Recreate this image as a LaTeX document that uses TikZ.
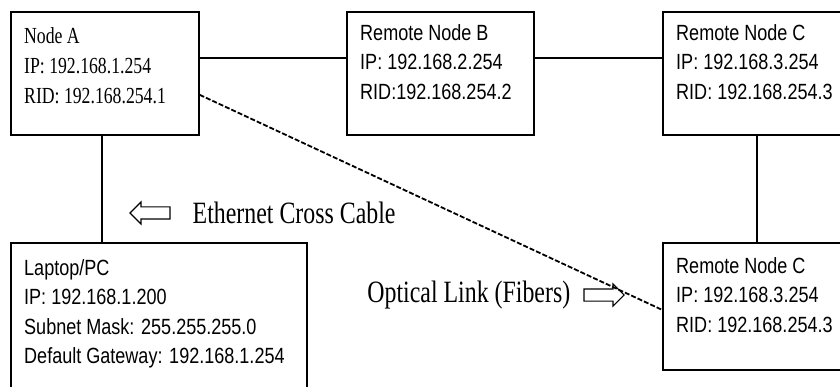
\documentclass[tikz,border=0pt]{standalone}
\usepackage{fontspec}
\usetikzlibrary{positioning,shapes.arrows}
\newfontfamily\boxsans{Liberation Sans}[FakeStretch=0.82]
\newfontfamily\boxserif{Liberation Serif}[FakeStretch=0.77]
\newfontfamily\linkserif{Liberation Serif}[FakeStretch=0.77]

\begin{document}
\begin{tikzpicture}[x=1pt, y=-1pt,
    host/.style={draw, line width=1.6pt, anchor=north west, inner sep=0pt, minimum width=188pt, minimum height=123pt},
    hosttext/.style={anchor=north west, align=left, inner sep=0pt, xshift=14pt, yshift=-13pt, font=\fontsize{22}{29.5}\selectfont\boxsans},
    link/.style={line width=1.6pt},
    fiber/.style={line width=1.8pt, dash pattern=on 5pt off 2pt},
    hint/.style={single arrow, draw, line width=1.1pt, inner sep=5.5pt, minimum height=40pt, single arrow head extend=5pt},
    hintlabel/.style={font=\fontsize{31}{34}\selectfont\linkserif, inner sep=0pt}]

    \useasboundingbox (0,0) rectangle (840,387);
    \clip (0,0) rectangle (840,387);

    % hosts
    \node[host, label={[hosttext, yshift=-3pt, font=\fontsize{23}{30}\selectfont\boxserif]north west:{Node A\\IP: 192.168.1.254\\RID: 192.168.254.1}}] (nodeA) at (10,11) {};
    \node[host, minimum width=187pt, label={[hosttext]north west:{Remote Node B\\IP: 192.168.2.254\\RID:192.168.254.2}}] (nodeB) at (346,11) {};
    \node[host, label={[hosttext]north west:{Remote Node C\\IP: 192.168.3.254\\RID: 192.168.254.3}}] (nodeC) at (662,11) {};
    \node[host, minimum height=127pt, label={[hosttext, yshift=-2pt]north west:{Remote Node C\\IP: 192.168.3.254\\RID: 192.168.254.3}}] (nodeCb) at (662,242) {};
    \node[host, minimum width=296pt, minimum height=160pt, label={[hosttext, yshift=-4pt]north west:{Laptop/PC\\IP: 192.168.1.200\\Subnet Mask: 255.255.255.0\\Default Gateway: 192.168.1.254}}] (laptop) at (10,242) {};

    % links
    \draw[link] ([yshift=15.5pt]nodeA.east) -- ([yshift=15.5pt]nodeB.west);
    \draw[link] ([yshift=15.5pt]nodeB.east) -- ([yshift=15.5pt]nodeC.west);
    \draw[link] ([xshift=-3pt]nodeA.south) -- ([xshift=-3pt]nodeA.south |- laptop.north);
    \draw[link] (nodeC.south) -- (nodeCb.north);
    \draw[fiber] ([yshift=-21.5pt]nodeA.east) -- ([yshift=-3.5pt]nodeCb.west);

    % hints
    \node[hint, shape border rotate=180] (ethArrow) at (153,213) {};
    \node[hintlabel, right=22pt of ethArrow] (ethLabel) {Ethernet Cross Cable};
    \node[hint] (optArrow) at (601,295) {};
    \node[hintlabel, left=13pt of optArrow] (optLabel) {Optical Link (Fibers)};
\end{tikzpicture}
\end{document}
